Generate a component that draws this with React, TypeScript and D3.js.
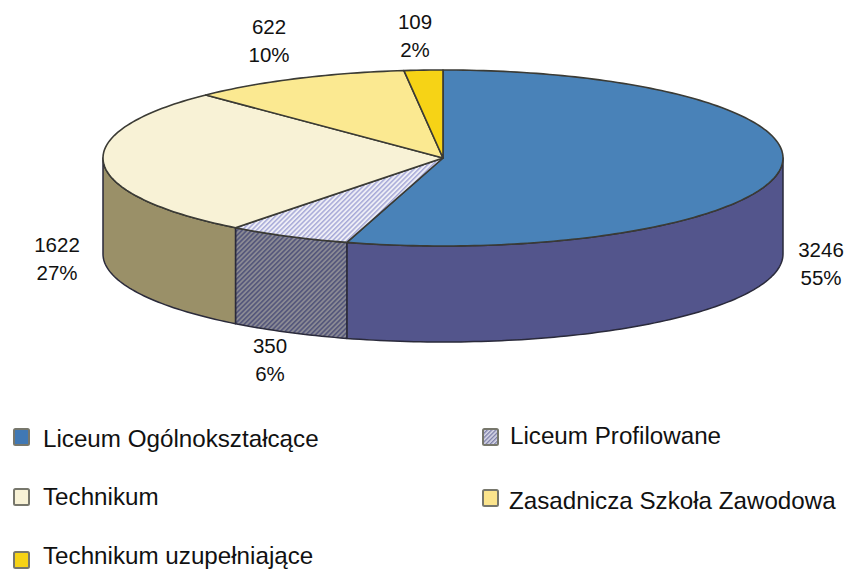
import React from "react";
import * as d3 from "d3";

const categories = ["Liceum Ogólnokształcące", "Liceum Profilowane", "Technikum", "Zasadnicza Szkoła Zawodowa", "Technikum uzupełniające"];
const values = [3246, 350, 1622, 622, 109];
const percents = ["55%", "6%", "27%", "10%", "2%"];
const topFills = ["#4a82b8", "url(#hatchTop)", "#f8f2d6", "#fbe991", "#f6d316"];
const sideFills = ["#52548c", "url(#hatchSide)", "#9a9068", "#9a9068", "#9a9068"];
const legendFills = ["#3f78b4", "url(#hatchLegend)", "#f8f2d6", "#fbe48c", "#f6d316"];
const labelPos = [[821, 257], [270, 353], [57, 252], [269, 34], [415, 29]];
const legendBox = [[14, 429], [483, 429], [14, 489], [483, 490], [14, 552]];
const legendText = [[43, 447], [510, 444], [43, 505], [509, 509], [43, 564]];

const cx = 443, cy = 158, rx = 340, ry = 88, depth = 96;
const px = (a: number) => cx + rx * Math.sin(a);
const py = (a: number, dy = 0) => cy - ry * Math.cos(a) + dy;

function samples(a0: number, a1: number) {
  const n = Math.max(2, Math.ceil((a1 - a0) / 0.02));
  return d3.range(n + 1).map((i) => a0 + ((a1 - a0) * i) / n);
}
const line = d3.line<[number, number]>();

function topPath(a0: number, a1: number) {
  const pts = samples(a0, a1).map((a) => [px(a), py(a)] as [number, number]);
  return line([[cx, cy], ...pts])! + "Z";
}
function sidePath(a0: number, a1: number) {
  const lo = Math.max(a0, Math.PI / 2), hi = Math.min(a1, (3 * Math.PI) / 2);
  if (hi <= lo) return null;
  const s = samples(lo, hi);
  const up = s.map((a) => [px(a), py(a)] as [number, number]);
  const down = [...s].reverse().map((a) => [px(a), py(a, depth)] as [number, number]);
  return line([...up, ...down])! + "Z";
}

export default function App() {
  const arcs = d3.pie<number>().sort(null)(values);
  return (
    <svg width={844} height={570} style={{ position: "absolute", left: 0, top: 0, background: "#fff" }} fontFamily="'Liberation Sans', Arial, sans-serif">
      <defs>
        <pattern id="hatchTop" width="3.4" height="3.4" patternUnits="userSpaceOnUse" patternTransform="rotate(45)">
          <rect width="3.4" height="3.4" fill="#eeeef6" />
          <rect width="1.5" height="3.4" fill="#a8aad8" />
        </pattern>
        <pattern id="hatchSide" width="3.4" height="3.4" patternUnits="userSpaceOnUse" patternTransform="rotate(45)">
          <rect width="3.4" height="3.4" fill="#8a8a94" />
          <rect width="1.6" height="3.4" fill="#54567a" />
        </pattern>
        <pattern id="hatchLegend" width="3" height="3" patternUnits="userSpaceOnUse" patternTransform="rotate(45)">
          <rect width="3" height="3" fill="#dcdcea" />
          <rect width="1.4" height="3" fill="#7c7ea8" />
        </pattern>
        <filter id="soft" x="-2%" y="-2%" width="104%" height="104%">
          <feGaussianBlur stdDeviation="0.45" />
        </filter>
      </defs>
      <g filter="url(#soft)" strokeLinejoin="round">
        {arcs.map((d, i) => {
          const p = sidePath(d.startAngle, d.endAngle);
          return p ? <path key={i} d={p} fill={sideFills[i]} stroke="#2a2a3a" strokeWidth={1.5} /> : null;
        })}
        {arcs.map((d, i) => (
          <path key={i} d={topPath(d.startAngle, d.endAngle)} fill={topFills[i]} stroke="#3a3a34" strokeWidth={1.6} />
        ))}
      </g>
      {arcs.map((d, i) => (
        <text key={i} x={labelPos[i][0]} y={labelPos[i][1]} textAnchor="middle" fontSize={20.5} fill="#111">
          <tspan x={labelPos[i][0]}>{values[i]}</tspan>
          <tspan x={labelPos[i][0]} dy={27.5}>{percents[i]}</tspan>
        </text>
      ))}
      {categories.map((c, i) => (
        <g key={c}>
          <rect x={legendBox[i][0]} y={legendBox[i][1]} width={15} height={16} rx={1.5} fill={legendFills[i]} stroke="#77776c" strokeWidth={2} filter="url(#soft)" />
          <text x={legendText[i][0]} y={legendText[i][1]} fontSize={24.2} fill="#111">{c}</text>
        </g>
      ))}
    </svg>
  );
}
